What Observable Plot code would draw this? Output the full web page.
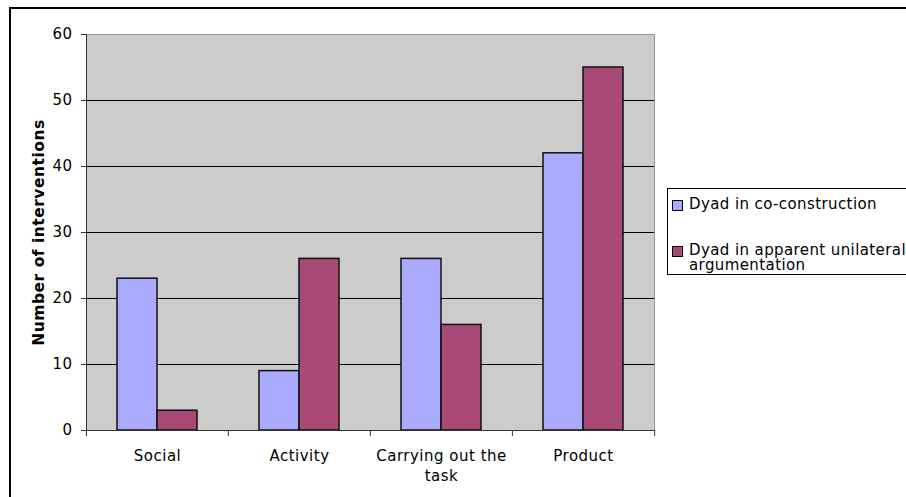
<!DOCTYPE html>
<html>
<head>
<meta charset="utf-8">
<script src="https://cdn.jsdelivr.net/npm/d3@7"></script>
<script src="https://cdn.jsdelivr.net/npm/@observablehq/plot@0.6"></script>
<style>
  html, body { margin: 0; padding: 0; background: #fff; }
  body { width: 906px; height: 497px; overflow: hidden; position: relative;
         font-family: "DejaVu Sans", Verdana, sans-serif; }
  #border { position: absolute; left: 9px; top: 7px; width: 1000px; height: 600px;
            border-left: 2px solid #000; border-top: 2px solid #000; }
  #chart { position: absolute; left: 0; top: 0; }
  #legend { position: absolute; left: 667px; top: 188px; width: 300px; height: 85px;
            border: 1px solid #000; background: #fff; font-size: 15px; letter-spacing: 0.4px; color: #000; }
  .item { position: absolute; left: 4px; display: flex; align-items: flex-start; }
  .sw { width: 9px; height: 9px; border: 1px solid #000; margin-top: 3px; margin-right: 6px; flex: none; }
  .lab { line-height: 15px; width: 230px; }
</style>
</head>
<body>
<div id="border"></div>
<div id="chart"></div>
<div id="legend"></div>
<script>
const categories = ["Social", "Activity", "Carrying out the task", "Product"];
const seriesNames = ["Dyad in co-construction", "Dyad in apparent unilateral argumentation"];
const coConstruction = [23, 9, 26, 42];
const unilateral = [3, 26, 16, 55];
const yTicks = [0, 10, 20, 30, 40, 50, 60];
const seriesColors = ["#AAAAFF", "#A94A76"];
const yTitle = "Number of interventions";

const data = categories.flatMap((c, i) => [
  {category: c, series: seriesNames[0], value: coConstruction[i]},
  {category: c, series: seriesNames[1], value: unilateral[i]}
]);

const W = 660, H = 497, ML = 85, MR = 6, MT = 34, MB = 67;
const half = (W - ML - MR) / categories.length / 2;

const plot = Plot.plot({
  width: W, height: H,
  marginLeft: ML, marginRight: MR, marginTop: MT, marginBottom: MB,
  style: {fontFamily: "'DejaVu Sans', Verdana, sans-serif", fontSize: "15px", background: "transparent", color: "#000", letterSpacing: "0.5px"},
  fx: {domain: categories, padding: 0, label: null},
  x: {domain: seriesNames, paddingInner: 0, paddingOuter: 0.74, axis: null},
  y: {domain: [0, 60], label: null},
  color: {domain: seriesNames, range: seriesColors},
  marks: [
    Plot.frame({facet: "super", fill: "#cccccc", stroke: "#999"}),
    Plot.ruleY(yTicks.slice(1, -1), {stroke: "#000", strokeWidth: 1}),
    Plot.barY(data, {fx: "category", x: "series", y: "value", fill: "series", stroke: "#111", strokeWidth: 1.5}),
    Plot.frame({facet: "super", anchor: "left", stroke: "#333"}),
    Plot.ruleY([0], {stroke: "#333"}),
    Plot.axisY({ticks: yTicks, tickSize: 5, tickPadding: 9, label: null, stroke: "#333"}),
    Plot.axisY({ticks: [], label: yTitle, labelAnchor: "center", labelArrow: "none", labelOffset: 54, fontWeight: "bold", fontSize: 15.5}),
    Plot.axisFx({anchor: "bottom", tickSize: 0, tickPadding: 17, lineWidth: 9, lineHeight: 1.3, label: null}),
    Plot.axisFx({anchor: "bottom", tickSize: 6, tickFormat: () => "", dx: -half, label: null, stroke: "#333"}),
    Plot.axisFx({anchor: "bottom", ticks: [categories[categories.length - 1]], tickSize: 6, tickFormat: () => "", dx: half, label: null, stroke: "#333"})
  ]
});
document.getElementById("chart").appendChild(plot);

const legend = document.getElementById("legend");
const itemTops = [8, 54];
seriesNames.forEach((s, i) => {
  const item = document.createElement("div");
  item.className = "item";
  item.style.top = itemTops[i] + "px";
  const sw = document.createElement("div");
  sw.className = "sw";
  sw.style.background = seriesColors[i];
  const lab = document.createElement("div");
  lab.className = "lab";
  lab.textContent = s;
  item.appendChild(sw);
  item.appendChild(lab);
  legend.appendChild(item);
});
</script>
</body>
</html>
